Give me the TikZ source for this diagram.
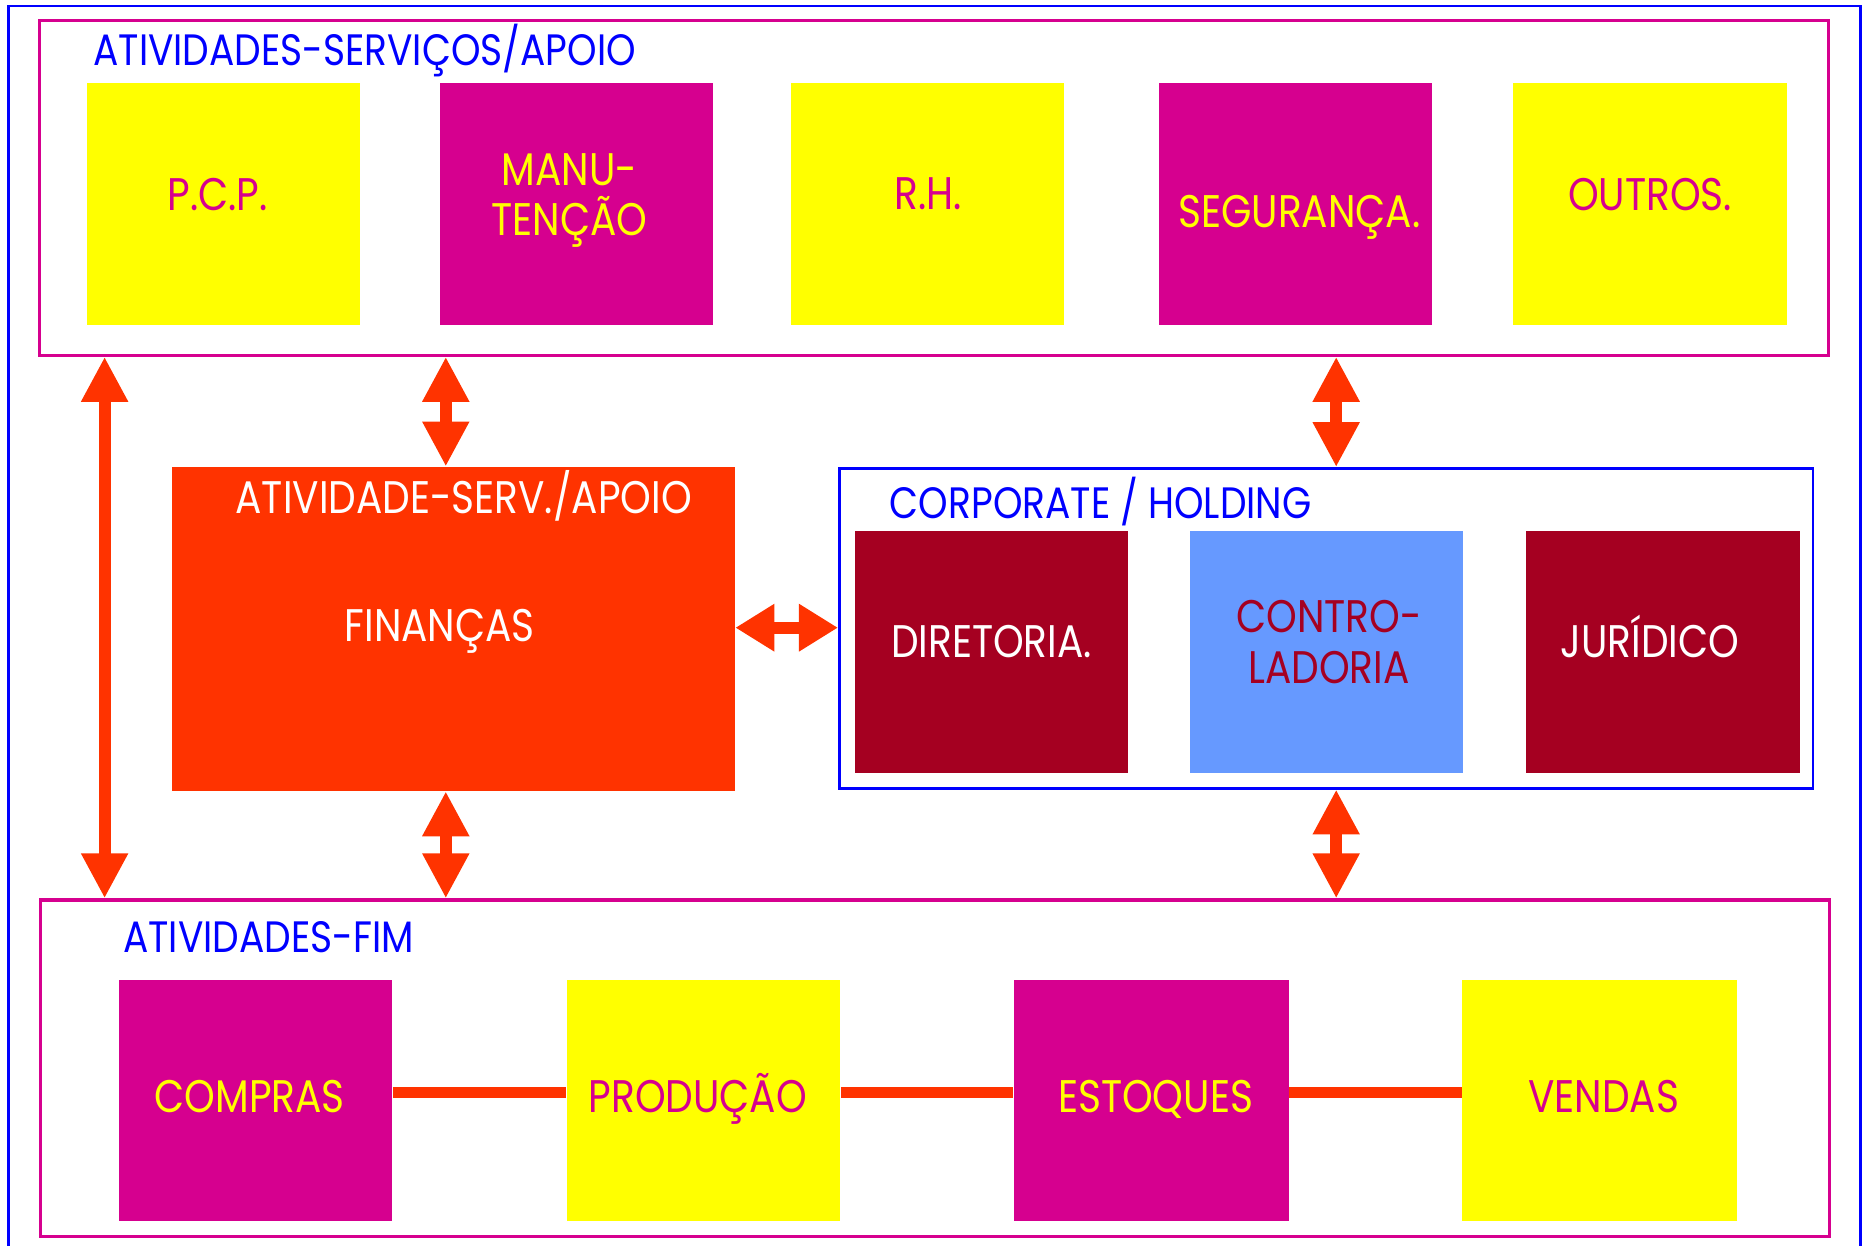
\documentclass[tikz,border=0pt]{standalone}
\usepackage{fontspec}
\setmainfont{Poppins}[FakeStretch=0.855]
\usetikzlibrary{arrows.meta,fit}
\definecolor{mag}{HTML}{D6008F}
\definecolor{yel}{HTML}{FFFF00}
\definecolor{org}{HTML}{FF3300}
\definecolor{dred}{HTML}{A50021}
\definecolor{lblue}{HTML}{6699FF}
\definecolor{blu}{HTML}{0000FF}
\tikzset{
  frame/.style={draw=#1, line width=0.75pt, inner sep=0pt, fill=none},
  boxf/.style={fill=#1, inner sep=0pt, draw=none},
  txt/.style={anchor=base, inner sep=0pt, font=\fontsize{13}{15}\selectfont, text=#1},
  ttl/.style={anchor=base west, inner sep=0pt, font=\fontsize{12.5}{15}\selectfont, text=blu},
  vdbl/.style={draw=org, line width=3.4pt, {Triangle[length=12.8pt,width=12.5pt]}-{Triangle[length=12.8pt,width=12.5pt]}},
  hdbl/.style={draw=org, line width=3.4pt, {Triangle[length=11.1pt,width=12.8pt]}-{Triangle[length=11.1pt,width=12.8pt]}},
  bar/.style={draw=org, line width=3.4pt}
}
\begin{document}
\begin{tikzpicture}[x=0.011888cm, y=-0.011888cm]
\useasboundingbox (0,0) rectangle (1568,1048);
% outer frame
\draw[blu, line width=0.75pt] (7,1070) -- (7,5) -- (1565,5) -- (1565,1070);
% top frame
\node[frame=mag, fit={(33,17)(1538,299)}] (top) {};
\node[ttl] (toptitle) at (78,55) {ATIVIDADES-SERVIÇOS/APOIO};
\node[boxf=yel, fit={(73,70)(303,273)}] (pcp) {};
\node[boxf=mag, fit={(370,70)(600,273)}] (manu) {};
\node[boxf=yel, fit={(665,70)(895,273)}] (rh) {};
\node[boxf=mag, fit={(975,70)(1205,273)}] (seg) {};
\node[boxf=yel, fit={(1273,70)(1503,273)}] (outros) {};
\node[txt=mag] (pcpt) at (183,177) {P.C.P.};
\node[txt=yel] (manut1) at (479,156) {MANU-};
\node[txt=yel] (manut2) at (479,198) {TENÇÃO};
\node[txt=mag] (rht) at (781,176) {R.H.};
\node[txt=yel] (segt) at (1093,191) {SEGURANÇA.};
\node[txt=mag] (outrost) at (1388,177) {OUTROS.};
% finance
\node[boxf=org, fit={(145,393)(618,665)}] (fin) {};
\node[txt=white] (fint1) at (390,432) {ATIVIDADE-SERV./APOIO};
\node[txt=white] (fint2) at (370,540) {FINANÇAS};
% corporate
\node[frame=blu, fit={(706,394)(1525,663)}] (corp) {};
\node[ttl] (corptitle) at (748,436) {CORPORATE / HOLDING};
\node[boxf=dred, fit={(719,447)(949,650)}] (dir) {};
\node[boxf=lblue, fit={(1001,447)(1231,650)}] (ctrl) {};
\node[boxf=dred, fit={(1284,447)(1514,650)}] (jur) {};
\node[txt=white] (dirt) at (834,553) {DIRETORIA.};
\node[txt=dred] (ctrlt1) at (1118,532) {CONTRO-};
\node[txt=dred] (ctrlt2) at (1118,575) {LADORIA};
\node[txt=white] (jurt) at (1388,553) {JURÍDICO};
% bottom frame
\node[frame=mag, line width=0.9pt, fit={(34,757)(1539,1040)}] (bot) {};
\node[ttl] (bottitle) at (103,801) {ATIVIDADES-FIM};
\node[boxf=mag, fit={(100,824)(330,1027)}] (compras) {};
\node[boxf=yel, fit={(477,824)(707,1027)}] (prod) {};
\node[boxf=mag, fit={(853,824)(1084,1027)}] (est) {};
\node[boxf=yel, fit={(1230,824)(1461,1027)}] (vendas) {};
\node[txt=yel] (comprast) at (210,936) {COMPRAS};
\node[txt=mag] (prodt) at (587,936) {PRODUÇÃO};
\node[txt=yel] (estt) at (972,936) {ESTOQUES};
\node[txt=mag] (vendast) at (1349,936) {VENDAS};
% connector coordinates
\coordinate (xa) at (88,0);
\coordinate (xb) at (375,0);
\coordinate (xc) at (1124,0);
\coordinate (yh) at (0,528);
\coordinate (yb) at (0,919);
% arrows
\draw[vdbl] (top.south -| xa) -- (bot.north -| xa);
\draw[vdbl] (top.south -| xb) -- (fin.north -| xb);
\draw[vdbl] (fin.south -| xb) -- (bot.north -| xb);
\draw[vdbl] (top.south -| xc) -- (corp.north -| xc);
\draw[vdbl] (corp.south -| xc) -- (bot.north -| xc);
\draw[hdbl] (fin.east |- yh) -- (corp.west |- yh);
% bars
\draw[bar] (compras.east |- yb) -- (prod.west |- yb);
\draw[bar] (prod.east |- yb) -- (est.west |- yb);
\draw[bar] (est.east |- yb) -- (vendas.west |- yb);
\end{tikzpicture}
\end{document}
